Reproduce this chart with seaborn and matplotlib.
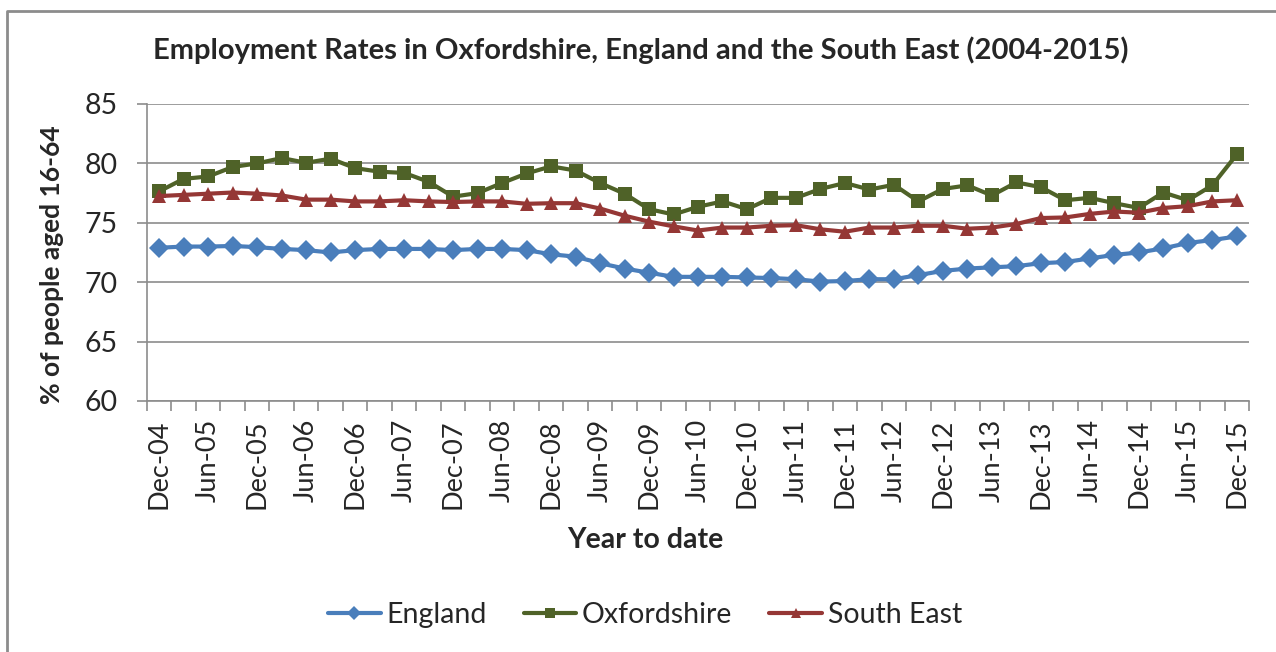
import numpy as np
import pandas as pd
import seaborn as sns
import matplotlib.pyplot as plt
from matplotlib.lines import Line2D

# quarterly periods, Dec-04 .. Dec-15
months = ['Mar', 'Jun', 'Sep', 'Dec']
quarters = ['Dec-04'] + ['{}-{:02d}'.format(m, y) for y in range(5, 16) for m in months]

england = [72.9, 73.0, 73.0, 73.05, 72.95, 72.8, 72.7, 72.5, 72.7, 72.8, 72.8, 72.8,
           72.7, 72.8, 72.8, 72.7, 72.35, 72.15, 71.6, 71.15, 70.8, 70.45, 70.45,
           70.45, 70.4, 70.35, 70.25, 70.05, 70.1, 70.25, 70.25, 70.6, 70.95, 71.15,
           71.25, 71.35, 71.6, 71.7, 72.0, 72.3, 72.5, 72.85, 73.3, 73.55, 73.85]
oxfordshire = [77.65, 78.7, 78.9, 79.7, 80.0, 80.45, 80.05, 80.4, 79.6, 79.3, 79.2,
               78.45, 77.2, 77.5, 78.35, 79.15, 79.75, 79.4, 78.35, 77.45, 76.15,
               75.7, 76.35, 76.8, 76.15, 77.1, 77.1, 77.85, 78.35, 77.8, 78.2, 76.8,
               77.85, 78.15, 77.3, 78.4, 78.0, 76.9, 77.1, 76.65, 76.25, 77.55, 76.9,
               78.15, 80.75]
south_east = [77.25, 77.35, 77.45, 77.55, 77.45, 77.3, 76.95, 76.95, 76.8, 76.8,
              76.9, 76.8, 76.75, 76.8, 76.8, 76.6, 76.65, 76.65, 76.2, 75.6, 75.1,
              74.7, 74.35, 74.6, 74.6, 74.75, 74.8, 74.45, 74.25, 74.6, 74.6, 74.75,
              74.75, 74.5, 74.6, 74.9, 75.4, 75.45, 75.75, 75.95, 75.85, 76.25, 76.4,
              76.8, 76.9]

series_names = ['England', 'Oxfordshire', 'South East']
colours = ['#4A7EBB', '#4F6228', '#953735']
marker_styles = ['D', 's', '^']

df = pd.DataFrame({
    'idx': list(range(len(quarters))) * 3,
    'rate': england + oxfordshire + south_east,
    'series': [n for n in series_names for _ in quarters],
})

sns.set_style('white')
plt.rcParams['font.family'] = ['Lato', 'DejaVu Sans']

fig = plt.figure(figsize=(12.76, 6.52), dpi=100)
ax = fig.add_axes([147 / 1276, 1 - 401 / 652, (1249 - 147) / 1276, (401 - 104) / 652])

sns.lineplot(data=df, x='idx', y='rate', hue='series', style='series',
             palette=dict(zip(series_names, colours)),
             markers=dict(zip(series_names, marker_styles)),
             dashes=False, linewidth=3, markersize=10, markeredgewidth=0,
             legend=False, ax=ax)

ax.set_xlim(-0.5, len(quarters) - 0.5)
ax.set_ylim(60, 85)
ax.set_yticks(np.arange(60, 86, 5))
ax.yaxis.grid(True, color='#8c8c8c', linewidth=1.2)
ax.xaxis.grid(False)

ax.set_xticks(range(0, len(quarters), 2))
ax.set_xticklabels(quarters[::2], rotation=90, fontsize=19.5)
ax.set_xticks(np.arange(-0.5, len(quarters), 1), minor=True)
ax.tick_params(axis='x', which='major', length=0, pad=13)
ax.tick_params(axis='x', which='minor', length=7, width=1.2, color='#8c8c8c',
               direction='out', bottom=True)
ax.tick_params(axis='y', length=7, width=1.2, color='#8c8c8c', direction='out',
               left=True, labelsize=20.5, pad=14)

for side in ['top', 'right']:
    ax.spines[side].set_visible(False)
for side in ['left', 'bottom']:
    ax.spines[side].set_color('#8c8c8c')
    ax.spines[side].set_linewidth(1.2)

ax.set_xlabel('')
ax.set_ylabel('')
fig.text(52 / 1276, 1 - 265 / 652, '% of people aged 16-64', rotation=90,
         ha='center', va='center', fontsize=19, fontweight='bold')

fig.text(641 / 1276, 1 - 50 / 652, 'Employment Rates in Oxfordshire, England and the South East (2004-2015)',
         ha='center', va='center', fontsize=21, fontweight='bold')
fig.text(645 / 1276, 1 - 540 / 652, 'Year to date', ha='center', va='center',
         fontsize=20.5, fontweight='bold')

handles = [Line2D([], [], color=c, marker=m, linewidth=3, markersize=7, markeredgewidth=0)
           for c, m in zip(colours, marker_styles)]
fig.legend(handles, series_names, loc='center', bbox_to_anchor=(645 / 1276, 1 - 615 / 652),
           ncol=3, frameon=False, fontsize=20.5, handlelength=1.85, handletextpad=0.2,
           columnspacing=1.3, markerfirst=True)

# outer chart frame (left and top edges visible)
fig.add_artist(Line2D([7 / 1276, 7 / 1276, 1], [0, 1 - 11 / 652, 1 - 11 / 652],
                      color='#8c8c8c', linewidth=2, transform=fig.transFigure))

fig.savefig('out.png', dpi=100)
